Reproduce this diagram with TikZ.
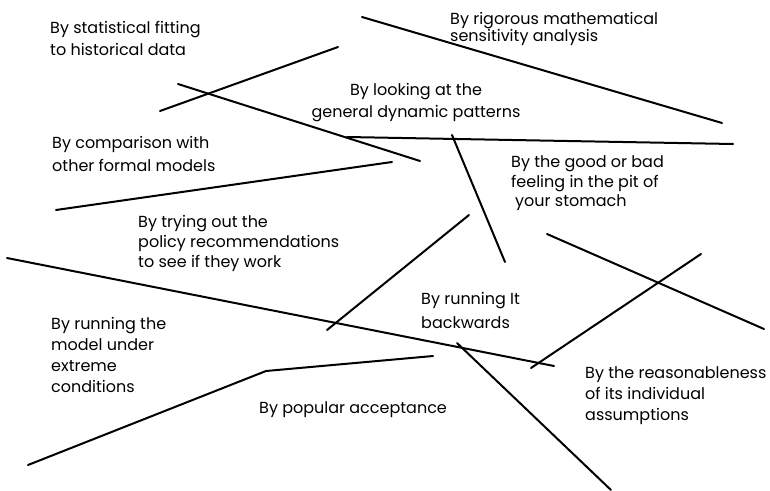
\documentclass[tikz,border=0pt]{standalone}
\usepackage{fontspec}
\setmainfont{Poppins}
\usetikzlibrary{positioning}

\begin{document}
\begin{tikzpicture}[
  x=1pt, y=-1pt,
  lbl/.style={anchor=base west, align=left, inner sep=0pt, font=\fontsize{16}{21}\selectfont},
  clbl/.style={lbl, anchor=base, align=center},
  stroke/.style={line width=2pt, line cap=round}]
\useasboundingbox (0,0) rectangle (770,490);
\node[lbl] (fit) at (50,55) {By statistical fitting\\[1pt]to historical data};
\node[lbl] (rigor) at (450,41) {By rigorous mathematical\\[-4pt]sensitivity analysis};
\node[clbl] (dyn) at (416,117) {By looking at the\\[1pt]general dynamic patterns};
\node[lbl] (compare) at (52,171) {By comparison with\\[2pt]other formal models};
\node[lbl] (gut) at (511,206) {By the good or bad\\[-1pt]feeling in the pit of\\[-2pt]\hspace*{4pt}your stomach};
\node[lbl] (policy) at (138,267) {By trying out the\\[-1pt]policy recommendations\\[-1pt]to see if they work};
\node[lbl] (backw) at (421,328) {By running It\\[3pt]backwards};
\node[lbl] (extreme) at (51,392) {By running the\\model under\\extreme\\conditions};
\node[lbl] (popular) at (259,413) {By popular acceptance};
\node[lbl] (assume) at (585,420) {By the reasonableness\\of its individual\\assumptions};
\draw[stroke] (160,111) -- (338,47);
\draw[stroke] (178,84) -- (420,161);
\draw[stroke] (362,17) -- (722,123);
\draw[stroke] (347,137) -- (733,144);
\draw[stroke] (56,210) -- (392,162);
\draw[stroke] (452,135) -- (505,262);
\draw[stroke] (327,330) -- (469,215);
\draw[stroke] (7,258) -- (554,366);
\draw[stroke] (531,368) -- (701,254);
\draw[stroke] (547,234) -- (764,329);
\draw[stroke] (457,343) -- (611,490);
\draw[stroke] (28,465) -- (266,371) -- (433,356);
\end{tikzpicture}
\end{document}
